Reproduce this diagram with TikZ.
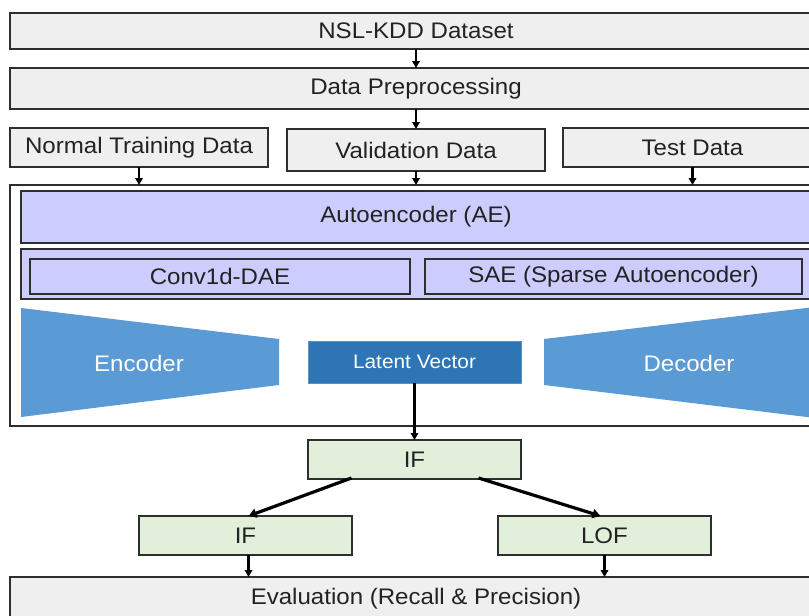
\documentclass[tikz,border=0pt]{standalone}
\usepackage{fontspec}
\setmainfont[FakeStretch=1.07]{Liberation Sans}
\usetikzlibrary{arrows.meta}
\definecolor{boxgray}{HTML}{EFEFEF}
\definecolor{edge}{HTML}{2E2E2E}
\definecolor{lav}{HTML}{CCCCFF}
\definecolor{bluemid}{HTML}{5B9BD5}
\definecolor{bluedark}{HTML}{2E75B6}
\definecolor{greenl}{HTML}{E2EFDA}
\definecolor{txt}{HTML}{222222}
\begin{document}
\begin{tikzpicture}[x=1pt,y=-1pt,
  every node/.style={inner sep=0pt,outer sep=0pt,font=\fontsize{22.5}{26}\selectfont,text=txt},
  graybox/.style={draw=edge,line width=2.2pt,fill=boxgray,rectangle},
  lavbox/.style={draw=edge,line width=2.2pt,fill=lav,rectangle},
  greenbox/.style={draw=edge,line width=2pt,fill=greenl,rectangle},
  conn/.style={line width=2.2pt,draw=black,-{Triangle[length=7pt,width=7.5pt]}},
  diag/.style={line width=3.2pt,draw=black,-{Triangle[length=8pt,width=9pt]}}]
\useasboundingbox (0,0) rectangle (809,616);
% top boxes
\node[graybox,minimum width=812pt,minimum height=36pt] (nsl) at (416,31) {NSL-KDD Dataset};
\node[graybox,minimum width=812pt,minimum height=41pt] (pre) at (416,88.5) {Data Preprocessing};
\node[graybox,minimum width=258pt,minimum height=39pt] (ntd) at (139,147.5) {Normal Training Data};
\node[graybox,minimum width=258pt,minimum height=42pt] (val) at (416,150) {Validation Data};
\node[graybox,minimum width=259pt,minimum height=39pt] (tst) at (692.5,147.5) {Test Data};
% outer box
\node[draw=edge,line width=2.2pt,fill=white,minimum width=812pt,minimum height=241pt] (outer) at (416,305.5) {};
\node[lavbox,minimum width=790pt,minimum height=52pt] (ae) at (416,217) {Autoencoder (AE)};
\node[lavbox,minimum width=790pt,minimum height=50pt] (strip) at (416,274) {};
\node[lavbox,minimum width=380pt,minimum height=35pt] (dae) at (220,276.5) {Conv1d-DAE};
\node[lavbox,minimum width=377pt,minimum height=35pt] (sae) at (613.5,276.5) {SAE (Sparse Autoencoder)};
% encoder / decoder
\fill[bluemid] (21,308) -- (279,339) -- (279,385) -- (21,417) -- cycle;
\fill[bluemid] (544,339) -- (815,307) -- (815,418) -- (544,385) -- cycle;
\node[text=white] (enc) at (139,363) {Encoder};
\node[text=white] (dec) at (689,363) {Decoder};
\node[fill=bluedark,draw=bluedark!80!white,line width=0.8pt,minimum width=213pt,minimum height=42pt,text=white,font=\fontsize{19.5}{22}\selectfont] (lat) at (414.5,362) {Latent Vector};
% detectors
\node[greenbox,minimum width=213pt,minimum height=39pt] (if1) at (414.5,459.5) {IF};
\node[greenbox,minimum width=213pt,minimum height=39pt] (if2) at (245.5,535.5) {IF};
\node[greenbox,minimum width=213pt,minimum height=39pt] (lof) at (604.5,535.5) {LOF};
\node[graybox,minimum width=812pt,minimum height=43pt] (eval) at (416,598.5) {Evaluation (Recall \& Precision)};
% connectors
\draw[conn] (nsl.south) -- (pre.north);
\draw[conn] (pre.south) -- (val.north);
\draw[conn] (ntd.south) -- (ntd.south |- outer.north);
\draw[conn] (val.south) -- (val.south |- outer.north);
\draw[conn] (tst.south) -- (tst.south |- outer.north);
\draw[conn] (lat.south) -- (if1.north);
\coordinate (ifl) at ([xshift=-63pt,yshift=1pt]if1.south);
\coordinate (ifr) at ([xshift=64pt,yshift=1pt]if1.south);
\draw[diag] (ifl) -- ([xshift=3pt]if2.north);
\draw[diag] (ifr) -- ([xshift=-4pt]lof.north);
\draw[conn] ([xshift=3pt]if2.south) -- ([xshift=3pt]if2.south |- eval.north);
\draw[conn] (lof.south) -- (lof.south |- eval.north);
\end{tikzpicture}
\end{document}
